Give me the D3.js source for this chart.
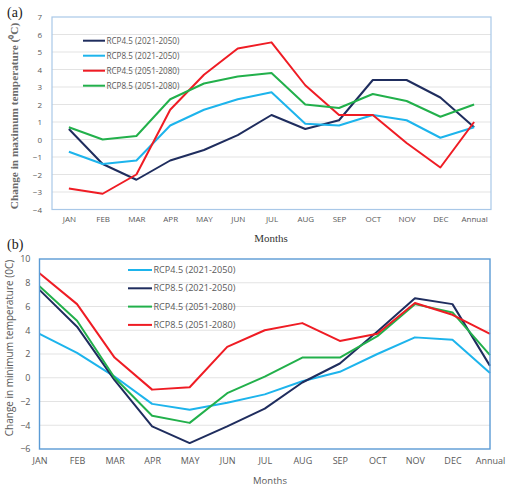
<!DOCTYPE html>
<html><head><meta charset="utf-8">
<script src="https://cdn.jsdelivr.net/npm/d3@7"></script>
<style>body{margin:0;background:#fff}svg{display:block}</style>
</head><body>
<script>
const months = ["JAN","FEB","MAR","APR","MAY","JUN","JUL","AUG","SEP","OCT","NOV","DEC","Annual"];
// Panel (a) maximum temperature
const aSeriesNames = ["RCP4.5 (2021-2050)","RCP8.5 (2021-2050)","RCP4.5 (2051-2080)","RCP8.5 (2051-2080)"];
const aRcp45Near = [0.6,-1.4,-2.3,-1.2,-0.6,0.25,1.4,0.6,1.1,3.4,3.4,2.4,0.7];
const aRcp85Near = [-0.7,-1.4,-1.2,0.8,1.7,2.3,2.7,0.9,0.8,1.4,1.1,0.1,0.7];
const aRcp45Far  = [-2.8,-3.1,-2.0,1.7,3.7,5.2,5.55,3.1,1.4,1.4,-0.2,-1.6,1.0];
const aRcp85Far  = [0.7,0.0,0.2,2.3,3.2,3.6,3.8,2.0,1.8,2.6,2.2,1.3,2.0];
const aTicks = [-4,-3,-2,-1,0,1,2,3,4,5,6,7];
// Panel (b) minimum temperature
const bSeriesNames = ["RCP4.5 (2021-2050)","RCP8.5 (2021-2050)","RCP4.5 (2051-2080)","RCP8.5 (2051-2080)"];
const bRcp45Near = [3.7,2.1,0.1,-2.2,-2.7,-2.1,-1.4,-0.3,0.5,2.0,3.4,3.2,0.4];
const bRcp85Near = [7.4,4.3,-0.2,-4.1,-5.5,-4.1,-2.6,-0.4,1.2,3.9,6.7,6.2,1.0];
const bRcp45Far  = [7.7,4.8,0.0,-3.2,-3.8,-1.3,0.1,1.7,1.7,3.5,6.2,5.5,1.9];
const bRcp85Far  = [8.8,6.2,1.7,-1.0,-0.8,2.6,4.0,4.6,3.1,3.7,6.3,5.3,3.7];
const bTicks = [-6,-4,-2,0,2,4,6,8,10];

const navy="#1f2d5e", lblue="#1db4ec", red="#ef1c24", green="#22b04b";
const W=510,H=487;
const svg=d3.select("body").append("svg").attr("width",W).attr("height",H);
const gray="#595959";

function panel(o){
  const g=svg.append("g");
  const x=d3.scalePoint().domain(months).range([o.left,o.right]).padding(o.pad);
  const y=d3.scaleLinear().domain(o.domain).range([o.bottom,o.top]);
  // grid
  g.append("g").selectAll("line").data(o.ticks.filter(t=>t!==o.domain[0]&&t!==o.domain[1])).join("line")
    .attr("x1",o.left).attr("x2",o.right).attr("y1",d=>y(d)).attr("y2",d=>y(d))
    .attr("stroke","#e3e3e3").attr("stroke-width",1);
  // y axis labels
  const ya=d3.axisLeft(y).tickValues(o.ticks).tickSize(0).tickPadding(o.ytpad);
  const yg=g.append("g").attr("transform",`translate(${o.left},0)`).call(ya);
  yg.select(".domain").remove();
  yg.selectAll("text").attr("fill",gray).style("font-family","Open Sans").style("font-size",o.tfs+"px");
  const xa=d3.axisBottom(x).tickSize(0).tickPadding(o.xtpad);
  const xg=g.append("g").attr("transform",`translate(0,${o.bottom})`).call(xa);
  xg.select(".domain").remove();
  xg.selectAll("text").attr("fill",gray).style("font-family","Open Sans").style("font-size",o.tfs+"px");
  // lines
  const line=d3.line().x((d,i)=>x(months[i])).y(d=>y(d));
  o.series.forEach(s=>{
    g.append("path").datum(s.values).attr("d",line).attr("fill","none")
      .attr("stroke",s.color).attr("stroke-width",2).attr("stroke-linejoin","round");
  });
  // border
  g.append("rect").attr("x",o.left).attr("y",o.top).attr("width",o.right-o.left).attr("height",o.bottom-o.top)
    .attr("fill","none").attr("stroke",o.border).attr("stroke-width",o.bw);
  // legend
  o.series.forEach((s,i)=>{
    const ly=o.legY+i*o.legDy;
    g.append("line").attr("x1",o.legX).attr("x2",o.legX+o.legLen).attr("y1",ly).attr("y2",ly)
      .attr("stroke",s.color).attr("stroke-width",2);
    g.append("text").attr("x",o.legX+o.legLen+1.5).attr("y",ly).attr("dy","0.35em")
      .attr("fill",gray).style("font-family","Open Sans").style("font-size",o.lfs+"px").text(s.name);
  });
  return {x,y,g};
}

panel({left:52,right:491,top:17,bottom:209.5,pad:0.5,domain:[-4,7],ticks:aTicks,ytpad:10,xtpad:7,tfs:8,
  border:"#a9c8e8",bw:1.2,
  series:[{name:aSeriesNames[0],values:aRcp45Near,color:navy},{name:aSeriesNames[1],values:aRcp85Near,color:lblue},
          {name:aSeriesNames[2],values:aRcp45Far,color:red},{name:aSeriesNames[3],values:aRcp85Far,color:green}],
  legX:83,legLen:22,legY:40.7,legDy:15,lfs:8.1});

panel({left:39.5,right:490,top:259,bottom:449,pad:0,domain:[-6,10],ticks:bTicks,ytpad:9,xtpad:9,tfs:9,
  border:"#5b9bd5",bw:1.4,
  series:[{name:bSeriesNames[0],values:bRcp45Near,color:lblue},{name:bSeriesNames[1],values:bRcp85Near,color:navy},
          {name:bSeriesNames[2],values:bRcp45Far,color:green},{name:bSeriesNames[3],values:bRcp85Far,color:red}],
  legX:128,legLen:24,legY:270,legDy:18.3,lfs:9.1});

// titles
svg.append("text").attr("x",7).attr("y",17).style("font-family","Liberation Serif").style("font-size","14px").attr("fill","#222").text("(a)");
svg.append("text").attr("x",7).attr("y",249).style("font-family","Liberation Serif").style("font-size","14px").attr("fill","#222").text("(b)");
svg.append("text").attr("transform","translate(18,116) rotate(-90)").attr("text-anchor","middle")
  .style("font-family","Liberation Serif").style("font-weight","bold").style("font-size","11.3px").attr("fill","#6b6b6b")
  .text("Change in maximum temperature (⁰C)");
svg.append("text").attr("x",271).attr("y",242).attr("text-anchor","middle")
  .style("font-family","Liberation Serif").style("font-size","11px").attr("fill","#333").text("Months");
svg.append("text").attr("transform","translate(13,348) rotate(-90)").attr("text-anchor","middle")
  .style("font-family","Open Sans").style("font-size","10px").attr("fill",gray)
  .text("Change in minimum temperature (0C)");
svg.append("text").attr("x",270).attr("y",484).attr("text-anchor","middle")
  .style("font-family","Open Sans").style("font-size","9.5px").attr("fill",gray).text("Months");
</script>
</body></html>
